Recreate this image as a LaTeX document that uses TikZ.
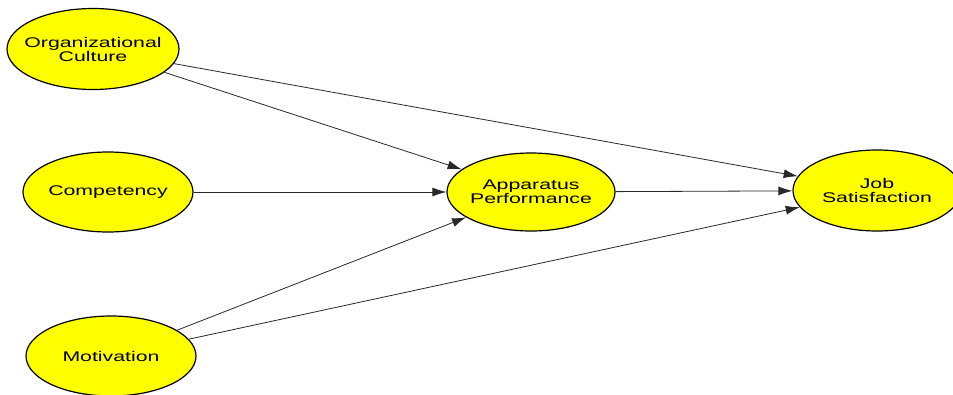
\documentclass[tikz,border=0pt]{standalone}
\usepackage{fontspec}
\setmainfont{Liberation Sans}
\newfontfamily\widefont[FakeStretch=1.52]{Liberation Sans}
\usetikzlibrary{shapes.geometric,arrows.meta}
\definecolor{nodeyellow}{RGB}{255,255,0}
\definecolor{edgegray}{RGB}{40,40,40}
\tikzset{
  construct/.style={ellipse, draw=black, line width=1.2pt, fill=nodeyellow,
    inner sep=0pt, minimum width=170pt, minimum height=80pt},
  lbl/.style={font=\widefont\fontsize{14}{14}\selectfont, align=center, text=black},
  path/.style={draw=edgegray, line width=0.8pt, -{Latex[length=14pt,width=9pt]}}
}
\begin{document}
\begin{tikzpicture}[x=1pt,y=-1pt]
\useasboundingbox (0,0) rectangle (953,394);
\node[construct, minimum width=172pt, minimum height=81pt] (org) at (93,49) {};
\node[lbl] (orgt) at (org.center) {Organizational\\Culture};
\node[construct] (comp) at (108,192) {};
\node[lbl] (compt) at (comp.center) {Competency};
\node[construct] (mot) at (111,356) {};
\node[lbl] (mott) at (mot.center) {Motivation};
\node[construct, minimum width=168pt, minimum height=78pt] (app) at (531,192) {};
\node[lbl] (appt) at (app.center) {Apparatus\\Performance};
\node[construct, minimum width=168pt, minimum height=81pt] (job) at (877,190.5) {};
\node[lbl] (jobt) at (job.center) {Job\\Satisfaction};
\draw[path] (org) -- (app);
\draw[path] (org) -- (job);
\draw[path] (comp.east) -- (app.west);
\draw[path] (app) -- (job);
\draw[path] (mot) -- (app);
\draw[path] (mot) -- (job);
\end{tikzpicture}
\end{document}
